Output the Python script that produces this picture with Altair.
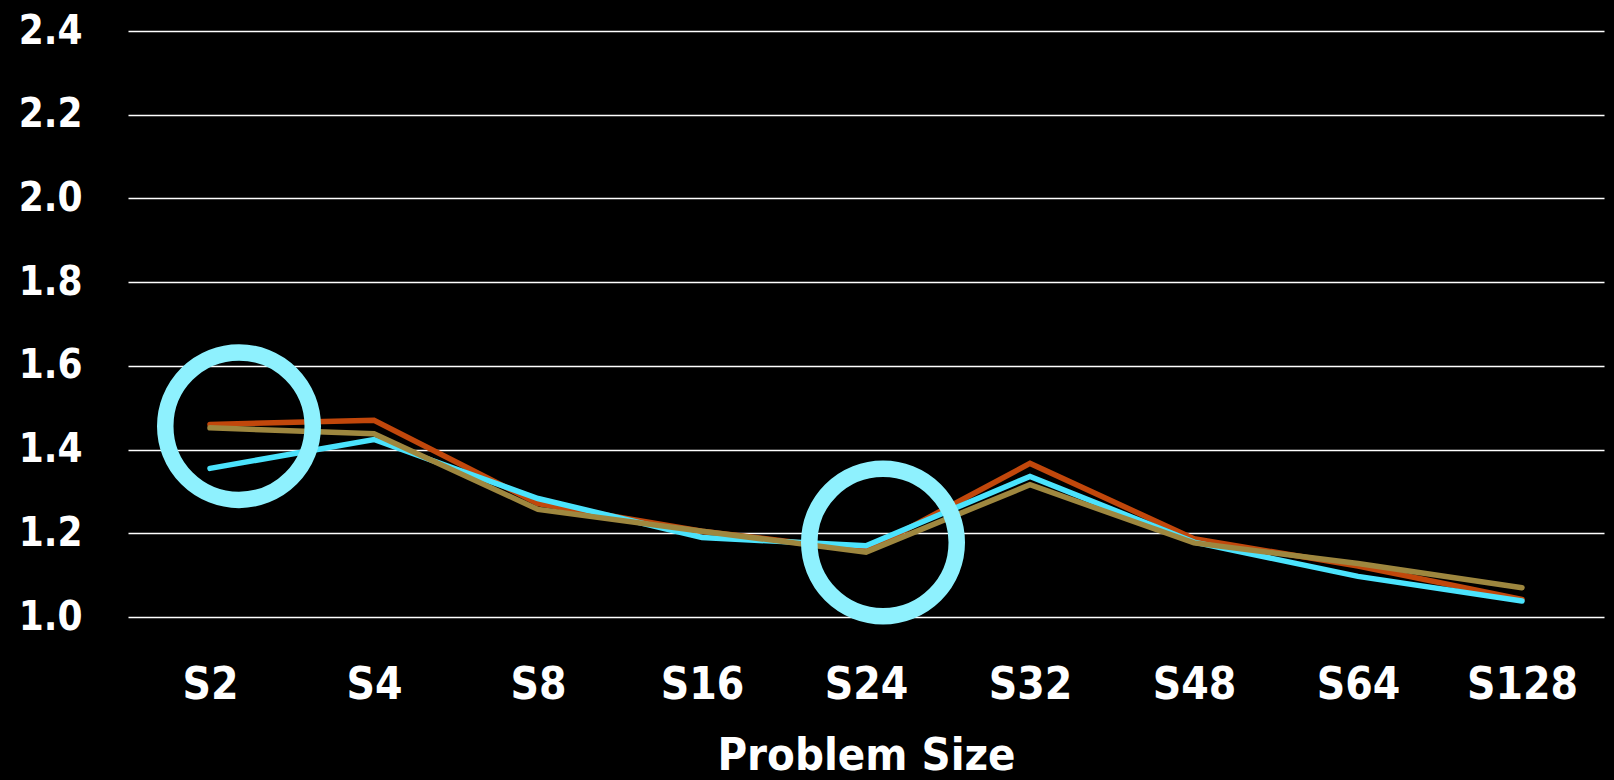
import altair as alt
import pandas as pd

# Problem sizes along the x axis
sizes = ["S2", "S4", "S8", "S16", "S24", "S32", "S48", "S64", "S128"]

# Relative performance per series
run_a = [1.460, 1.470, 1.271, 1.205, 1.158, 1.367, 1.187, 1.122, 1.042]
run_b = [1.355, 1.424, 1.283, 1.190, 1.170, 1.336, 1.179, 1.097, 1.038]
run_c = [1.452, 1.438, 1.257, 1.205, 1.155, 1.316, 1.177, 1.128, 1.070]

series_names = ["Run A", "Run B", "Run C"]
series_colors = ["#C1470B", "#4BE3FD", "#9E873F"]

# Highlighted points (ring call-outs)
callout_sizes = ["S2", "S24"]
callout_values = [1.456, 1.178]

y_ticks = [1.0, 1.2, 1.4, 1.6, 1.8, 2.0, 2.2, 2.4]

rows = []
for name, vals in zip(series_names, [run_a, run_b, run_c]):
    for s, v in zip(sizes, vals):
        rows.append({"size": s, "series": name, "value": v})
df = pd.DataFrame(rows)

callouts = pd.DataFrame({"size": callout_sizes, "value": callout_values})

font = "DejaVu Sans Condensed, DejaVu Sans, sans-serif"

x_enc = alt.X(
    "size:N",
    sort=sizes,
    scale=alt.Scale(type="point", padding=0.5),
    axis=alt.Axis(
        title="Problem Size",
        labelAngle=0,
        labelFont=font,
        labelFontSize=44,
        labelFontWeight="bold",
        labelColor="#ffffff",
        labelPadding=46,
        ticks=False,
        tickSize=0,
        domain=False,
        grid=False,
        titleFont=font,
        titleFontSize=45,
        titleFontWeight="bold",
        titleColor="#ffffff",
        titleBaseline="top",
        titleY=116,
    ),
)

y_enc = alt.Y(
    "value:Q",
    scale=alt.Scale(domain=[1.0, 2.4], nice=False, zero=False),
    axis=alt.Axis(
        title=None,
        values=y_ticks,
        format=".1f",
        labelFont=font,
        labelFontSize=40,
        labelFontWeight="bold",
        labelColor="#ffffff",
        labelPadding=46,
        ticks=False,
        tickSize=0,
        domain=False,
        grid=True,
        gridColor="#ffffff",
        gridWidth=1.6,
    ),
)

lines = alt.Chart(df).mark_line(strokeWidth=5.5, strokeCap="round").encode(
    x=x_enc,
    y=y_enc,
    color=alt.Color(
        "series:N",
        scale=alt.Scale(domain=series_names, range=series_colors),
        legend=None,
    ),
)

ring_style = dict(shape="circle", filled=False, size=21756, strokeWidth=16.5,
                  color="#8EF1FE", opacity=1)

ring_1 = alt.Chart(callouts.iloc[[0]]).mark_point(xOffset=29, **ring_style).encode(
    x=alt.X("size:N", sort=sizes), y="value:Q"
)
ring_2 = alt.Chart(callouts.iloc[[1]]).mark_point(xOffset=17, **ring_style).encode(
    x=alt.X("size:N", sort=sizes), y="value:Q"
)

chart = (
    alt.layer(lines, ring_1, ring_2)
    .properties(
        width=1476,
        height=586,
        background="#000000",
        autosize=alt.AutoSizeParams(type="none"),
        padding={"left": 128, "top": 31, "right": 10, "bottom": 163},
    )
    .configure_view(stroke=None)
)

chart.save("out.html", embed_options={"renderer": "svg", "actions": False})
